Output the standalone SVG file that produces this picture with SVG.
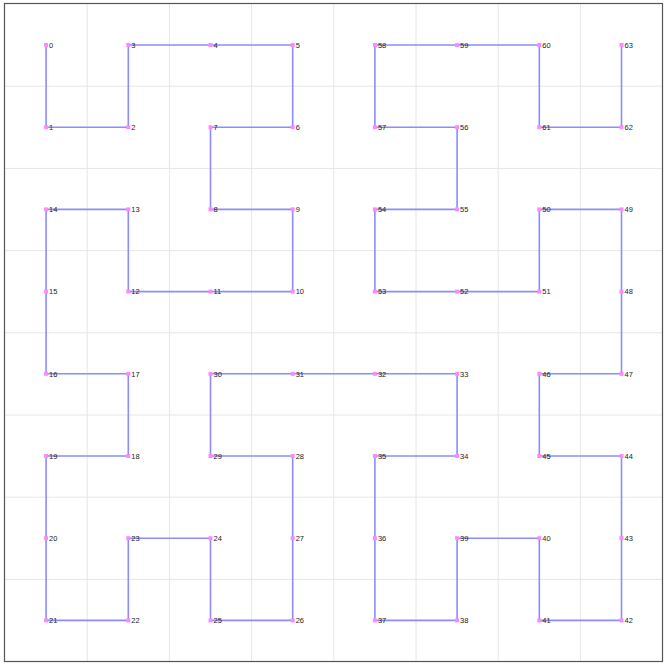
<svg xmlns="http://www.w3.org/2000/svg" width="666" height="666" viewBox="0 0 666 666">
<defs>
<style>
.grid{stroke:#e6e6e6;stroke-width:1;fill:none}
.curve{stroke:#8c8cff;stroke-width:1.6;fill:none;stroke-linejoin:miter}
.pt{fill:#ff88ff}
.lbl{font-family:"Liberation Sans",Arial,sans-serif;font-size:7.5px;fill:#222}
</style>
</defs>
<rect x="0" y="0" width="666" height="666" fill="#ffffff"/>
<g id="grid">
<path class="grid" d="M87.2,4V661.6M169.4,4V661.6M251.6,4V661.6M333.8,4V661.6M416,4V661.6M498.2,4V661.6M580.4,4V661.6M5,86.2H662.6M5,168.4H662.6M5,250.6H662.6M5,332.8H662.6M5,415H662.6M5,497.2H662.6M5,579.4H662.6"/>
</g>
<rect x="4.5" y="3.5" width="658" height="658" fill="none" stroke="#555" stroke-width="1.2"/>
<g id="connectors">
<polyline class="curve" points="46.1,45 46.1,127.2 128.3,127.2 128.3,45 210.5,45 292.7,45 292.7,127.2 210.5,127.2 210.5,209.4 292.7,209.4 292.7,291.6 210.5,291.6 128.3,291.6 128.3,209.4 46.1,209.4 46.1,291.6 46.1,373.8 128.3,373.8 128.3,456 46.1,456 46.1,538.2 46.1,620.4 128.3,620.4 128.3,538.2 210.5,538.2 210.5,620.4 292.7,620.4 292.7,538.2 292.7,456 210.5,456 210.5,373.8 292.7,373.8 374.9,373.8 457.1,373.8 457.1,456 374.9,456 374.9,538.2 374.9,620.4 457.1,620.4 457.1,538.2 539.3,538.2 539.3,620.4 621.5,620.4 621.5,538.2 621.5,456 539.3,456 539.3,373.8 621.5,373.8 621.5,291.6 621.5,209.4 539.3,209.4 539.3,291.6 457.1,291.6 374.9,291.6 374.9,209.4 457.1,209.4 457.1,127.2 374.9,127.2 374.9,45 457.1,45 539.3,45 539.3,127.2 621.5,127.2 621.5,45"/>
</g>
<g id="nodes">
<g id="n0"><rect class="pt" x="44.1" y="43" width="4" height="4"/><text class="lbl" x="49.1" y="47.8">0</text></g>
<g id="n1"><rect class="pt" x="44.1" y="125.2" width="4" height="4"/><text class="lbl" x="49.1" y="130">1</text></g>
<g id="n2"><rect class="pt" x="126.3" y="125.2" width="4" height="4"/><text class="lbl" x="131.3" y="130">2</text></g>
<g id="n3"><rect class="pt" x="126.3" y="43" width="4" height="4"/><text class="lbl" x="131.3" y="47.8">3</text></g>
<g id="n4"><rect class="pt" x="208.5" y="43" width="4" height="4"/><text class="lbl" x="213.5" y="47.8">4</text></g>
<g id="n5"><rect class="pt" x="290.7" y="43" width="4" height="4"/><text class="lbl" x="295.7" y="47.8">5</text></g>
<g id="n6"><rect class="pt" x="290.7" y="125.2" width="4" height="4"/><text class="lbl" x="295.7" y="130">6</text></g>
<g id="n7"><rect class="pt" x="208.5" y="125.2" width="4" height="4"/><text class="lbl" x="213.5" y="130">7</text></g>
<g id="n8"><rect class="pt" x="208.5" y="207.4" width="4" height="4"/><text class="lbl" x="213.5" y="212.2">8</text></g>
<g id="n9"><rect class="pt" x="290.7" y="207.4" width="4" height="4"/><text class="lbl" x="295.7" y="212.2">9</text></g>
<g id="n10"><rect class="pt" x="290.7" y="289.6" width="4" height="4"/><text class="lbl" x="295.7" y="294.4">10</text></g>
<g id="n11"><rect class="pt" x="208.5" y="289.6" width="4" height="4"/><text class="lbl" x="213.5" y="294.4">11</text></g>
<g id="n12"><rect class="pt" x="126.3" y="289.6" width="4" height="4"/><text class="lbl" x="131.3" y="294.4">12</text></g>
<g id="n13"><rect class="pt" x="126.3" y="207.4" width="4" height="4"/><text class="lbl" x="131.3" y="212.2">13</text></g>
<g id="n14"><rect class="pt" x="44.1" y="207.4" width="4" height="4"/><text class="lbl" x="49.1" y="212.2">14</text></g>
<g id="n15"><rect class="pt" x="44.1" y="289.6" width="4" height="4"/><text class="lbl" x="49.1" y="294.4">15</text></g>
<g id="n16"><rect class="pt" x="44.1" y="371.8" width="4" height="4"/><text class="lbl" x="49.1" y="376.6">16</text></g>
<g id="n17"><rect class="pt" x="126.3" y="371.8" width="4" height="4"/><text class="lbl" x="131.3" y="376.6">17</text></g>
<g id="n18"><rect class="pt" x="126.3" y="454" width="4" height="4"/><text class="lbl" x="131.3" y="458.8">18</text></g>
<g id="n19"><rect class="pt" x="44.1" y="454" width="4" height="4"/><text class="lbl" x="49.1" y="458.8">19</text></g>
<g id="n20"><rect class="pt" x="44.1" y="536.2" width="4" height="4"/><text class="lbl" x="49.1" y="541">20</text></g>
<g id="n21"><rect class="pt" x="44.1" y="618.4" width="4" height="4"/><text class="lbl" x="49.1" y="623.2">21</text></g>
<g id="n22"><rect class="pt" x="126.3" y="618.4" width="4" height="4"/><text class="lbl" x="131.3" y="623.2">22</text></g>
<g id="n23"><rect class="pt" x="126.3" y="536.2" width="4" height="4"/><text class="lbl" x="131.3" y="541">23</text></g>
<g id="n24"><rect class="pt" x="208.5" y="536.2" width="4" height="4"/><text class="lbl" x="213.5" y="541">24</text></g>
<g id="n25"><rect class="pt" x="208.5" y="618.4" width="4" height="4"/><text class="lbl" x="213.5" y="623.2">25</text></g>
<g id="n26"><rect class="pt" x="290.7" y="618.4" width="4" height="4"/><text class="lbl" x="295.7" y="623.2">26</text></g>
<g id="n27"><rect class="pt" x="290.7" y="536.2" width="4" height="4"/><text class="lbl" x="295.7" y="541">27</text></g>
<g id="n28"><rect class="pt" x="290.7" y="454" width="4" height="4"/><text class="lbl" x="295.7" y="458.8">28</text></g>
<g id="n29"><rect class="pt" x="208.5" y="454" width="4" height="4"/><text class="lbl" x="213.5" y="458.8">29</text></g>
<g id="n30"><rect class="pt" x="208.5" y="371.8" width="4" height="4"/><text class="lbl" x="213.5" y="376.6">30</text></g>
<g id="n31"><rect class="pt" x="290.7" y="371.8" width="4" height="4"/><text class="lbl" x="295.7" y="376.6">31</text></g>
<g id="n32"><rect class="pt" x="372.9" y="371.8" width="4" height="4"/><text class="lbl" x="377.9" y="376.6">32</text></g>
<g id="n33"><rect class="pt" x="455.1" y="371.8" width="4" height="4"/><text class="lbl" x="460.1" y="376.6">33</text></g>
<g id="n34"><rect class="pt" x="455.1" y="454" width="4" height="4"/><text class="lbl" x="460.1" y="458.8">34</text></g>
<g id="n35"><rect class="pt" x="372.9" y="454" width="4" height="4"/><text class="lbl" x="377.9" y="458.8">35</text></g>
<g id="n36"><rect class="pt" x="372.9" y="536.2" width="4" height="4"/><text class="lbl" x="377.9" y="541">36</text></g>
<g id="n37"><rect class="pt" x="372.9" y="618.4" width="4" height="4"/><text class="lbl" x="377.9" y="623.2">37</text></g>
<g id="n38"><rect class="pt" x="455.1" y="618.4" width="4" height="4"/><text class="lbl" x="460.1" y="623.2">38</text></g>
<g id="n39"><rect class="pt" x="455.1" y="536.2" width="4" height="4"/><text class="lbl" x="460.1" y="541">39</text></g>
<g id="n40"><rect class="pt" x="537.3" y="536.2" width="4" height="4"/><text class="lbl" x="542.3" y="541">40</text></g>
<g id="n41"><rect class="pt" x="537.3" y="618.4" width="4" height="4"/><text class="lbl" x="542.3" y="623.2">41</text></g>
<g id="n42"><rect class="pt" x="619.5" y="618.4" width="4" height="4"/><text class="lbl" x="624.5" y="623.2">42</text></g>
<g id="n43"><rect class="pt" x="619.5" y="536.2" width="4" height="4"/><text class="lbl" x="624.5" y="541">43</text></g>
<g id="n44"><rect class="pt" x="619.5" y="454" width="4" height="4"/><text class="lbl" x="624.5" y="458.8">44</text></g>
<g id="n45"><rect class="pt" x="537.3" y="454" width="4" height="4"/><text class="lbl" x="542.3" y="458.8">45</text></g>
<g id="n46"><rect class="pt" x="537.3" y="371.8" width="4" height="4"/><text class="lbl" x="542.3" y="376.6">46</text></g>
<g id="n47"><rect class="pt" x="619.5" y="371.8" width="4" height="4"/><text class="lbl" x="624.5" y="376.6">47</text></g>
<g id="n48"><rect class="pt" x="619.5" y="289.6" width="4" height="4"/><text class="lbl" x="624.5" y="294.4">48</text></g>
<g id="n49"><rect class="pt" x="619.5" y="207.4" width="4" height="4"/><text class="lbl" x="624.5" y="212.2">49</text></g>
<g id="n50"><rect class="pt" x="537.3" y="207.4" width="4" height="4"/><text class="lbl" x="542.3" y="212.2">50</text></g>
<g id="n51"><rect class="pt" x="537.3" y="289.6" width="4" height="4"/><text class="lbl" x="542.3" y="294.4">51</text></g>
<g id="n52"><rect class="pt" x="455.1" y="289.6" width="4" height="4"/><text class="lbl" x="460.1" y="294.4">52</text></g>
<g id="n53"><rect class="pt" x="372.9" y="289.6" width="4" height="4"/><text class="lbl" x="377.9" y="294.4">53</text></g>
<g id="n54"><rect class="pt" x="372.9" y="207.4" width="4" height="4"/><text class="lbl" x="377.9" y="212.2">54</text></g>
<g id="n55"><rect class="pt" x="455.1" y="207.4" width="4" height="4"/><text class="lbl" x="460.1" y="212.2">55</text></g>
<g id="n56"><rect class="pt" x="455.1" y="125.2" width="4" height="4"/><text class="lbl" x="460.1" y="130">56</text></g>
<g id="n57"><rect class="pt" x="372.9" y="125.2" width="4" height="4"/><text class="lbl" x="377.9" y="130">57</text></g>
<g id="n58"><rect class="pt" x="372.9" y="43" width="4" height="4"/><text class="lbl" x="377.9" y="47.8">58</text></g>
<g id="n59"><rect class="pt" x="455.1" y="43" width="4" height="4"/><text class="lbl" x="460.1" y="47.8">59</text></g>
<g id="n60"><rect class="pt" x="537.3" y="43" width="4" height="4"/><text class="lbl" x="542.3" y="47.8">60</text></g>
<g id="n61"><rect class="pt" x="537.3" y="125.2" width="4" height="4"/><text class="lbl" x="542.3" y="130">61</text></g>
<g id="n62"><rect class="pt" x="619.5" y="125.2" width="4" height="4"/><text class="lbl" x="624.5" y="130">62</text></g>
<g id="n63"><rect class="pt" x="619.5" y="43" width="4" height="4"/><text class="lbl" x="624.5" y="47.8">63</text></g>
</g>
</svg>
